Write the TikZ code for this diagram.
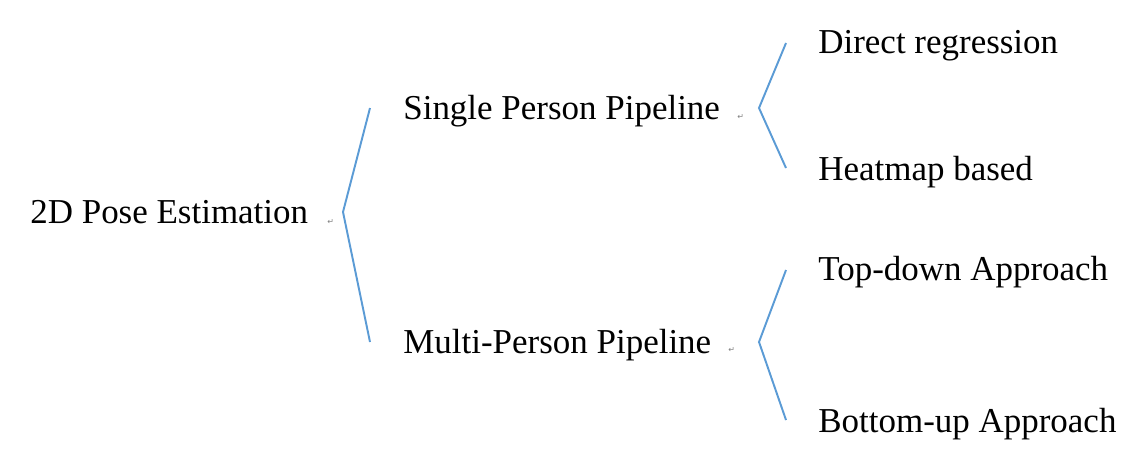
\documentclass[tikz,border=0pt]{standalone}
\usepackage{fontspec}
\setmainfont{Liberation Serif}
\newfontfamily\markfont{DejaVu Sans}
\usepackage{tikz}
\definecolor{wordblue}{RGB}{91,155,213}
\tikzset{
  label/.style={anchor=base west, inner sep=0pt, font=\fontsize{19.9}{24}\selectfont},
  parmark/.style={anchor=base west, inner sep=0pt, text=gray, font=\markfont\fontsize{4.5}{5}\selectfont},
  brace/.style={draw=wordblue, line width=1.1pt}
}

\begin{document}
\begin{tikzpicture}[x=0.02cm, y=-0.02cm]
\useasboundingbox (0,0) rectangle (1132,474);
% labels
\node[label] (root)   at (30,223)  {2D Pose Estimation};
\node[label] (single) at (403,119) {Single Person Pipeline};
\node[label] (multi)  at (403,353) {Multi-Person Pipeline};
\node[label] (direct) at (818,53)  {Direct regression};
\node[label] (heat)   at (818,180) {Heatmap based};
\node[label] (top)    at (818,280) {Top-down Approach};
\node[label] (bottom) at (818,432) {Bottom-up Approach};
% paragraph marks
\node[parmark] (m1) at (327,224) {↵};
\node[parmark] (m2) at (737,119) {↵};
\node[parmark] (m3) at (728,352) {↵};
% brackets
\coordinate (b1t) at (370,108);
\coordinate (b1v) at (343,212);
\coordinate (b1b) at (370,342);
\coordinate (b2t) at (786,43);
\coordinate (b2v) at (759,108);
\coordinate (b2b) at (786,168);
\coordinate (b3t) at (786,270);
\coordinate (b3v) at (759,342);
\coordinate (b3b) at (786,420);
\draw[brace] (b1t) -- (b1v) -- (b1b);
\draw[brace] (b2t) -- (b2v) -- (b2b);
\draw[brace] (b3t) -- (b3v) -- (b3b);
\end{tikzpicture}
\end{document}
